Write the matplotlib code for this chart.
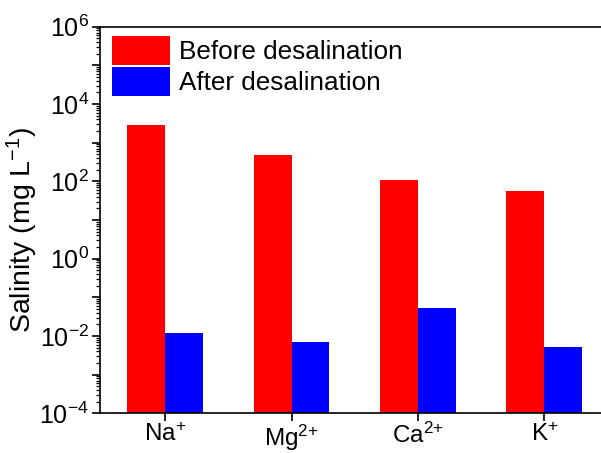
import matplotlib
matplotlib.use("Agg")
import matplotlib.pyplot as plt
import numpy as np
from matplotlib.ticker import FixedLocator, FuncFormatter, LogLocator, NullFormatter
from matplotlib.patches import Patch

plt.rcParams['font.family'] = ['Liberation Sans', 'DejaVu Sans']
plt.rcParams['mathtext.fontset'] = 'custom'
plt.rcParams['mathtext.rm'] = 'Liberation Sans'
plt.rcParams['mathtext.it'] = 'Liberation Sans:italic'
plt.rcParams['mathtext.bf'] = 'Liberation Sans:bold'

categories = ["Na$^{+}$", "Mg$^{2{+}}$", "Ca$^{2{+}}$", "K$^{+}$"]
before = [2900, 480, 110, 56]
after = [0.0118, 0.0069, 0.052, 0.0051]
series_labels = ["Before desalination", "After desalination"]
colors = ["#FF0000", "#0000FF"]

fig = plt.figure(figsize=(6.01, 4.53), dpi=100)
W, H = 601, 453
left, right, top, bottom = 100, 609.5, 26.7, 413.3
ax = fig.add_axes([left / W, (H - bottom) / H, (right - left) / W, (bottom - top) / H])

x = np.arange(len(categories))
bw = 0.3
ax.bar(x - bw / 2, before, width=bw, color=colors[0], linewidth=0)
ax.bar(x + bw / 2, after, width=bw, color=colors[1], linewidth=0)

ax.set_yscale('log')
ax.set_ylim(1e-4, 1e6)
ax.set_xlim(-0.515, 3.515)

ax.yaxis.set_major_locator(FixedLocator([10.0 ** e for e in range(-4, 7)]))
def fmt(v, pos):
    e = int(round(np.log10(v)))
    return f"$10^{{{e}}}$" if e % 2 == 0 else ""
ax.yaxis.set_major_formatter(FuncFormatter(fmt))
ax.yaxis.set_minor_locator(LogLocator(base=10, subs=np.arange(2, 10), numticks=100))
ax.yaxis.set_minor_formatter(NullFormatter())

ax.set_xticks(x)
ax.set_xticklabels(categories, fontsize=17.5)
ax.tick_params(axis='y', which='major', direction='out', length=6, width=1.2, labelsize=18, pad=2)
ax.tick_params(axis='y', which='minor', direction='out', length=3, width=0.9)
ax.tick_params(axis='x', which='major', direction='out', length=6, width=1.2, pad=1)
ax.tick_params(axis='x', which='minor', bottom=False)

for s in ['left', 'bottom', 'top', 'right']:
    ax.spines[s].set_linewidth(1.2)

ax.set_ylabel("Salinity (mg L$^{-1}$)", fontsize=20.5)
ax.yaxis.set_label_coords((40 - left) / (right - left), (bottom - 230) / (bottom - top))

fs = 18.8
handles = [Patch(facecolor=c, edgecolor='none') for c in colors]
ax.legend(handles, series_labels, loc='upper left', bbox_to_anchor=(12 / (right - left), 1 - 9 / (bottom - top)),
          frameon=False, fontsize=fs, handlelength=2.22, handleheight=1.33,
          handletextpad=0.34, labelspacing=0.08, borderpad=0, borderaxespad=0)

fig.savefig("out.png", dpi=100)
